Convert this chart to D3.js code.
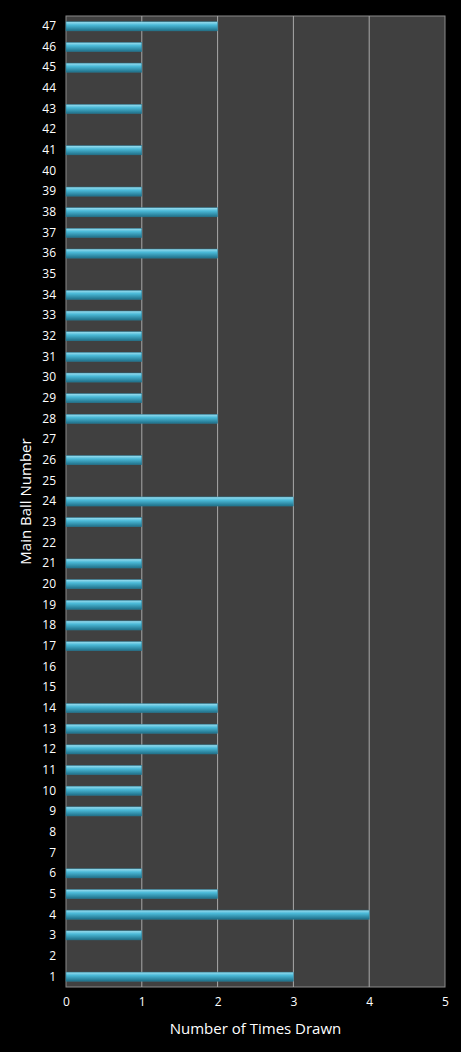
<!DOCTYPE html>
<html><head><meta charset="utf-8">
<script src="https://cdn.jsdelivr.net/npm/d3@7"></script>
<style>body{margin:0;background:#000}text{font-family:"Open Sans",sans-serif;fill:#fff}</style>
</head><body>
<script>
var balls = d3.range(1, 48);
var counts = [3,0,1,4,2,1,0,0,1,1,1,2,2,2,0,0,1,1,1,1,1,0,1,3,0,1,0,2,1,1,1,1,1,1,0,2,1,2,1,0,1,0,1,0,1,1,2];
var xTicks = [0,1,2,3,4,5];

var width = 461, height = 1052;
var margin = {left:66, right:16, top:16, bottom:65};
var svg = d3.select("body").append("svg").attr("width", width).attr("height", height);
var x = d3.scaleLinear().domain([0,5]).range([margin.left, width - margin.right]);
var y = d3.scaleBand().domain(balls.slice().reverse()).range([margin.top, height - margin.bottom]).paddingInner(0.56).paddingOuter(0.28);

var defs = svg.append("defs");
var grad = defs.append("linearGradient").attr("id","bar").attr("x1",0).attr("y1",0).attr("x2",0).attr("y2",1);
grad.append("stop").attr("offset","0%").attr("stop-color","#9fdff0");
grad.append("stop").attr("offset","35%").attr("stop-color","#4bbad8");
grad.append("stop").attr("offset","100%").attr("stop-color","#1f6f88");

svg.append("rect").attr("x", x(0)).attr("y", margin.top).attr("width", x(5) - x(0)).attr("height", height - margin.bottom - margin.top).attr("fill","#404040").attr("stroke","#8a8a8a");

svg.selectAll(".grid").data(xTicks.slice(1,5)).enter().append("line")
  .attr("x1", function(d){return x(d);}).attr("x2", function(d){return x(d);})
  .attr("y1", margin.top).attr("y2", height - margin.bottom).attr("stroke","#a8a8a8");

svg.selectAll(".bar").data(balls.filter(function(b){return counts[b-1] > 0;})).enter().append("rect")
  .attr("x", x(0)).attr("y", function(b){return y(b);})
  .attr("width", function(b){return x(counts[b-1]) - x(0);})
  .attr("height", y.bandwidth()).attr("fill","url(#bar)").attr("stroke","#2a7f99").attr("stroke-width",0.5);

var xa = svg.append("g").attr("transform","translate(0,"+(height - margin.bottom)+")")
  .call(d3.axisBottom(x).tickValues(xTicks).tickSize(0).tickPadding(10).tickFormat(d3.format("d")));
xa.select(".domain").remove();
xa.selectAll("text").attr("font-size",12).style("fill","#fff");

var ya = svg.append("g").attr("transform","translate("+margin.left+",0)")
  .call(d3.axisLeft(y).tickSize(0).tickPadding(10));
ya.select(".domain").remove();
ya.selectAll("text").attr("font-size",12).style("fill","#fff");

svg.append("text").attr("x", (x(0)+x(5))/2).attr("y", 1034).attr("text-anchor","middle").attr("font-size",15).text("Number of Times Drawn");
svg.append("text").attr("transform","translate(31,"+((margin.top + height - margin.bottom)/2)+") rotate(-90)").attr("text-anchor","middle").attr("font-size",15).text("Main Ball Number");
</script>
</body></html>
